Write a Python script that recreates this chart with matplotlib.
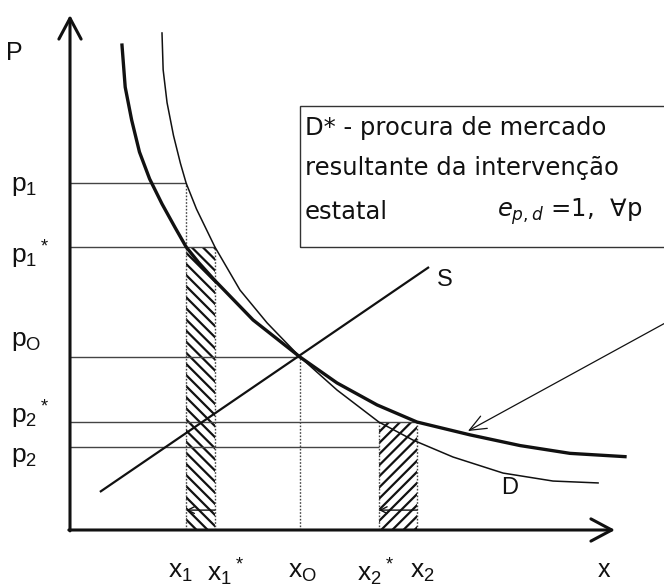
import matplotlib
matplotlib.use("Agg")
import matplotlib.pyplot as plt
from matplotlib.patches import Rectangle

# ---- quantities and prices marked on the axes ----
q_names = ["x_1", "x_1{}^*", "x_O", "x_2{}^*", "x_2"]
q_values = [5.05, 6.30, 10.0, 13.43, 15.09]
p_names = ["p_1", "p_1{}^*", "p_O", "p_2{}^*", "p_2"]
p_values = [20.05, 16.36, 10.0, 6.24, 4.80]

# ---- demand D (original market demand) ----
d_q = [4.00, 4.05, 4.22, 4.50, 4.80, 5.05, 5.50, 6.30, 7.39, 8.57, 10.0,
       11.61, 13.43, 14.91, 16.65, 18.83, 21.00, 22.96]
d_p = [28.73, 26.60, 24.70, 22.80, 21.20, 20.05, 18.55, 16.36, 13.87, 11.97,
       10.0, 8.09, 6.24, 5.20, 4.22, 3.29, 2.83, 2.72]

# ---- demand D* (market demand after state intervention, unit elastic) ----
dstar_q = [2.26, 2.40, 2.68, 3.02, 3.46, 4.00, 4.57, 5.05, 5.60, 6.30, 7.96,
           10.0, 11.61, 13.35, 15.09, 17.39, 19.57, 21.74, 24.13]
dstar_p = [28.03, 25.60, 23.70, 21.85, 20.30, 18.85, 17.48, 16.36, 15.45,
           14.42, 12.14, 10.0, 8.50, 7.23, 6.24, 5.50, 4.88, 4.43, 4.24]

# ---- supply S ----
s_q = [1.30, 15.61]
s_p = [2.20, 15.20]

x1, x1s, x0, x2s, x2 = q_values
p1, p1s, p0, p2s, p2 = p_values

# pixel scale of one unit on each axis, origin of the axes in pixels
SX, SY = 23.0, 17.3
OX, OY = 70.0, 530.0
W, H = 664, 587

# label nudges (data units) so the hand-placed names sit clear of each other
q_label_dx = [-0.25, 0.45, 0.10, -0.15, 0.25]
p_label_dy = [-0.15, -0.45, 0.95, 0.40, -0.60]

fig = plt.figure(figsize=(W / 100, H / 100), dpi=100)
ax = fig.add_axes([0, 0, 1, 1])
ax.set_xlim(-OX / SX, (W - OX) / SX)
ax.set_ylim(-(H - OY) / SY, OY / SY)
ax.axis("off")

plt.rcParams["hatch.linewidth"] = 1.6
label_font = ["Liberation Sans Narrow", "Liberation Sans", "DejaVu Sans"]
box_font = ["DejaVu Sans"]
ink = "#111111"
guide = "#444444"

# axes with arrow heads
x_end = (615 - OX) / SX
y_end = (OY - 15) / SY
arrow_kw = dict(arrowstyle="->,head_length=0.75,head_width=0.4",
                lw=2.2, color=ink, mutation_scale=20, shrinkA=0, shrinkB=0)
ax.annotate("", xy=(x_end, 0), xytext=(-0.05, 0), arrowprops=arrow_kw)
ax.annotate("", xy=(0, y_end), xytext=(0, -0.05), arrowprops=arrow_kw)

# horizontal guides from the price axis
h_ends = [x1, x1s, x0, x2, x2s]
for pv, xe in zip(p_values, h_ends):
    ax.plot([0, xe], [pv, pv], color=guide, lw=1.0, solid_capstyle="butt")

# vertical dotted guides down to the quantity axis
v_tops = [p1, p1s, p0, p2s, p2s]
for qv, yt in zip(q_values, v_tops):
    ax.plot([qv, qv], [0, yt], color=guide, lw=1.0, ls=(0, (1.2, 1.2)))

# hatched quantity changes
ax.add_patch(Rectangle((x1, 0), x1s - x1, p1s, fill=False, hatch="\\\\\\",
                       edgecolor=ink, lw=0))
ax.add_patch(Rectangle((x2s, 0), x2 - x2s, p2s, fill=False, hatch="///",
                       edgecolor=ink, lw=0))

small_arrow = dict(arrowstyle="->,head_length=0.4,head_width=0.2", lw=1.0,
                   color=ink, mutation_scale=12, shrinkA=0, shrinkB=0)
ax.annotate("", xy=(x1, 1.15), xytext=(x1s, 1.15), arrowprops=small_arrow)
ax.annotate("", xy=(x2s, 1.15), xytext=(x2, 1.15), arrowprops=small_arrow)

# curves
ax.plot(s_q, s_p, color=ink, lw=1.6, solid_capstyle="butt")
ax.plot(d_q, d_p, color=ink, lw=1.1)
ax.plot(dstar_q, dstar_p, color=ink, lw=2.4)

# curve labels
ax.text(16.3, 14.45, "S", fontsize=17, family=label_font, color=ink,
        ha="center", va="center")
ax.text(19.13, 2.45, "D", fontsize=17, family=label_font, color=ink,
        ha="center", va="center")
ax.text(-2.4, 27.6, "P", fontsize=18, family=label_font, color=ink,
        ha="center", va="center")
ax.text(23.2, -2.3, "x", fontsize=18, family=label_font, color=ink,
        ha="center", va="center")

# axis value labels
for name, pv, dy in zip(p_names, p_values, p_label_dy):
    ax.text(-2.55, pv + dy, r"$\mathregular{" + name + "}$", fontsize=19,
            family=label_font, color=ink, ha="left", va="center")
for name, qv, dx in zip(q_names, q_values, q_label_dx):
    ax.text(qv + dx, -2.42, r"$\mathregular{" + name + "}$", fontsize=19,
            family=label_font, color=ink, ha="center", va="center")

# explanatory box
box_left, box_top, box_bottom = 10.0, 24.51, p1s
ax.add_patch(Rectangle((box_left, box_bottom), 40, box_top - box_bottom,
                       fill=False, edgecolor="#333333", lw=1.0))
box_size = 17.5
ax.text(10.22, 23.25, "D* - procura de mercado", fontsize=box_size,
        family=box_font, color=ink, ha="left", va="center")
ax.text(10.22, 20.92, "resultante da intervenção", fontsize=box_size,
        family=box_font, color=ink, ha="left", va="center")
ax.text(10.22, 18.40, "estatal", fontsize=box_size,
        family=box_font, color=ink, ha="left", va="center")
ax.text(18.57, 18.40, r"$e_{p,d}$ =1,  $\forall$p", fontsize=box_size,
        family=box_font, color=ink, ha="left", va="center")

# pointer from the box to D*
ax.annotate("", xy=(17.3, 5.72), xytext=(26.2, 12.2),
            arrowprops=dict(arrowstyle="->,head_length=0.6,head_width=0.25",
                            lw=0.9, color=ink, mutation_scale=20,
                            shrinkA=0, shrinkB=0))

fig.savefig("out.png", dpi=100)
